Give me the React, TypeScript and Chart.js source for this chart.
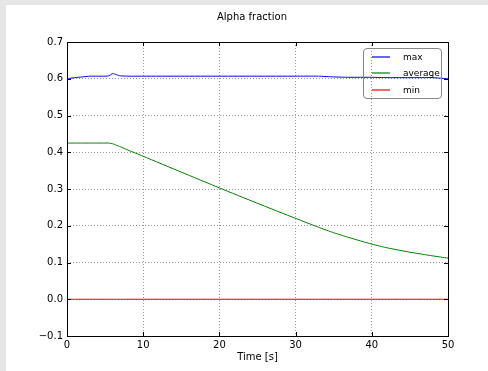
import React, { useEffect, useRef } from "react";
import { Chart, registerables } from "chart.js";

Chart.register(...registerables);

const titleText = "Alpha fraction";
const xAxisLabel = "Time [s]";
const seriesNames = ["max", "average", "min"];
const seriesColors = ["#0000ff", "#008000", "#ff0000"];

const timeValues = [0, 1, 2, 3, 4, 5, 5.5, 6, 6.5, 7, 8, 10, 15, 20, 25, 30, 33, 35, 37, 40, 42, 45, 48, 50];
const maxValues = [0.600, 0.603, 0.605, 0.607, 0.607, 0.607, 0.608, 0.614, 0.611, 0.608, 0.607, 0.607, 0.607, 0.607, 0.607, 0.607, 0.607, 0.605, 0.604, 0.604, 0.603, 0.603, 0.603, 0.600];
const avgValues = [0.425, 0.425, 0.425, 0.425, 0.425, 0.425, 0.425, 0.423, 0.419, 0.415, 0.406, 0.389, 0.346, 0.303, 0.261, 0.220, 0.196, 0.181, 0.168, 0.150, 0.140, 0.128, 0.118, 0.112];
const minValues = [0, 0, 0, 0, 0, 0, 0, 0, 0, 0, 0, 0, 0, 0, 0, 0, 0, 0, 0, 0, 0, 0, 0, 0];

const xMin = 0;
const xMax = 50;
const xStep = 10;
const yMin = -0.1;
const yMax = 0.7;
const yStep = 0.1;

const FONT = "'DejaVu Sans', sans-serif";

const frameAndTicks = {
  id: "frameAndTicks",
  afterDatasetsDraw(chart: any) {
    const { ctx, chartArea, scales } = chart;
    const { left, right, top, bottom } = chartArea;
    ctx.save();
    ctx.strokeStyle = "#000";
    ctx.lineWidth = 1;
    const L = 4;
    ctx.beginPath();
    scales.x.ticks.forEach((t: any) => {
      const px = Math.round(scales.x.getPixelForValue(t.value)) + 0.5;
      ctx.moveTo(px, bottom);
      ctx.lineTo(px, bottom - L);
      ctx.moveTo(px, top);
      ctx.lineTo(px, top + L);
    });
    scales.y.ticks.forEach((t: any) => {
      const py = Math.round(scales.y.getPixelForValue(t.value)) + 0.5;
      ctx.moveTo(left, py);
      ctx.lineTo(left + L, py);
      ctx.moveTo(right, py);
      ctx.lineTo(right - L, py);
    });
    ctx.stroke();
    ctx.strokeRect(Math.round(left) + 0.5, Math.round(top) + 0.5, Math.round(right - left), Math.round(bottom - top));
    ctx.restore();
  },
};

const fmtY = (v: any) => {
  const n = Math.abs(Number(v)) < 1e-9 ? 0 : Number(v);
  return n.toFixed(1).replace("-", "\u2212");
};

const legendRowTops = [0, 16, 33];

export default function App() {
  const canvasRef = useRef<HTMLCanvasElement | null>(null);

  useEffect(() => {
    if (!canvasRef.current) return;
    const mk = (vals: number[]) => timeValues.map((t, i) => ({ x: t, y: vals[i] }));
    const chart = new Chart(canvasRef.current, {
      type: "line",
      data: {
        datasets: [
          { label: seriesNames[0], data: mk(maxValues), borderColor: seriesColors[0], borderWidth: 1, pointRadius: 0, tension: 0.2 },
          { label: seriesNames[1], data: mk(avgValues), borderColor: seriesColors[1], borderWidth: 1, pointRadius: 0, tension: 0.2 },
          { label: seriesNames[2], data: mk(minValues), borderColor: seriesColors[2], borderWidth: 1, pointRadius: 0, tension: 0 },
        ],
      },
      options: {
        animation: false,
        responsive: false,
        maintainAspectRatio: false,
        devicePixelRatio: 1,
        layout: { padding: { top: 42, right: 40, left: 0, bottom: 0 } },
        plugins: { legend: { display: false }, title: { display: false }, tooltip: { enabled: false } },
        scales: {
          x: {
            type: "linear",
            min: xMin,
            max: xMax,
            ticks: {
              stepSize: xStep,
              color: "#000",
              padding: 3,
              maxRotation: 0,
              font: { family: FONT, size: 10 },
            },
            grid: { color: "#999", lineWidth: 1, drawTicks: false },
            border: { display: false, dash: [1, 2] },
            title: { display: true, text: xAxisLabel, color: "#000", font: { family: FONT, size: 10 }, padding: { top: 0, bottom: 8 } },
            afterFit: (s: any) => { s.height = 35; },
          },
          y: {
            type: "linear",
            min: yMin,
            max: yMax,
            ticks: {
              stepSize: yStep,
              color: "#000",
              padding: 4,
              font: { family: FONT, size: 10 },
              callback: fmtY,
            },
            grid: { color: "#999", lineWidth: 1, drawTicks: false },
            border: { display: false, dash: [1, 2] },
            afterFit: (s: any) => { s.width = 67; },
          },
        },
      },
      plugins: [frameAndTicks],
    });
    return () => chart.destroy();
  }, []);

  return (
    <div style={{ position: "fixed", left: 0, top: 0, width: 488, height: 371, background: "#e6e6e6", overflow: "hidden", fontFamily: FONT }}>
      <div style={{ position: "absolute", left: 6, top: 5, width: 482, height: 366, background: "#fff" }} />
      <canvas ref={canvasRef} width={488} height={371} style={{ position: "absolute", left: 0, top: 0, width: 488, height: 371 }} />
      <div style={{ position: "absolute", left: 152, top: 10, width: 200, textAlign: "center", fontSize: 10, lineHeight: "14px", color: "#000" }}>{titleText}</div>
      <div style={{ position: "absolute", left: 363, top: 48, width: 79, height: 51, border: "1px solid #888", borderRadius: 4, boxSizing: "border-box" }}>
        {seriesNames.map((n, i) => (
          <div key={n} style={{ position: "absolute", left: 0, top: legendRowTops[i], height: 16, width: 77 }}>
            <div style={{ position: "absolute", left: 8, top: 7, width: 18, height: 2, background: seriesColors[i], opacity: 0.6 }} />
            <div style={{ position: "absolute", left: 39, top: 0, fontSize: 9, lineHeight: "17px", color: "#000" }}>{n}</div>
          </div>
        ))}
      </div>
    </div>
  );
}
